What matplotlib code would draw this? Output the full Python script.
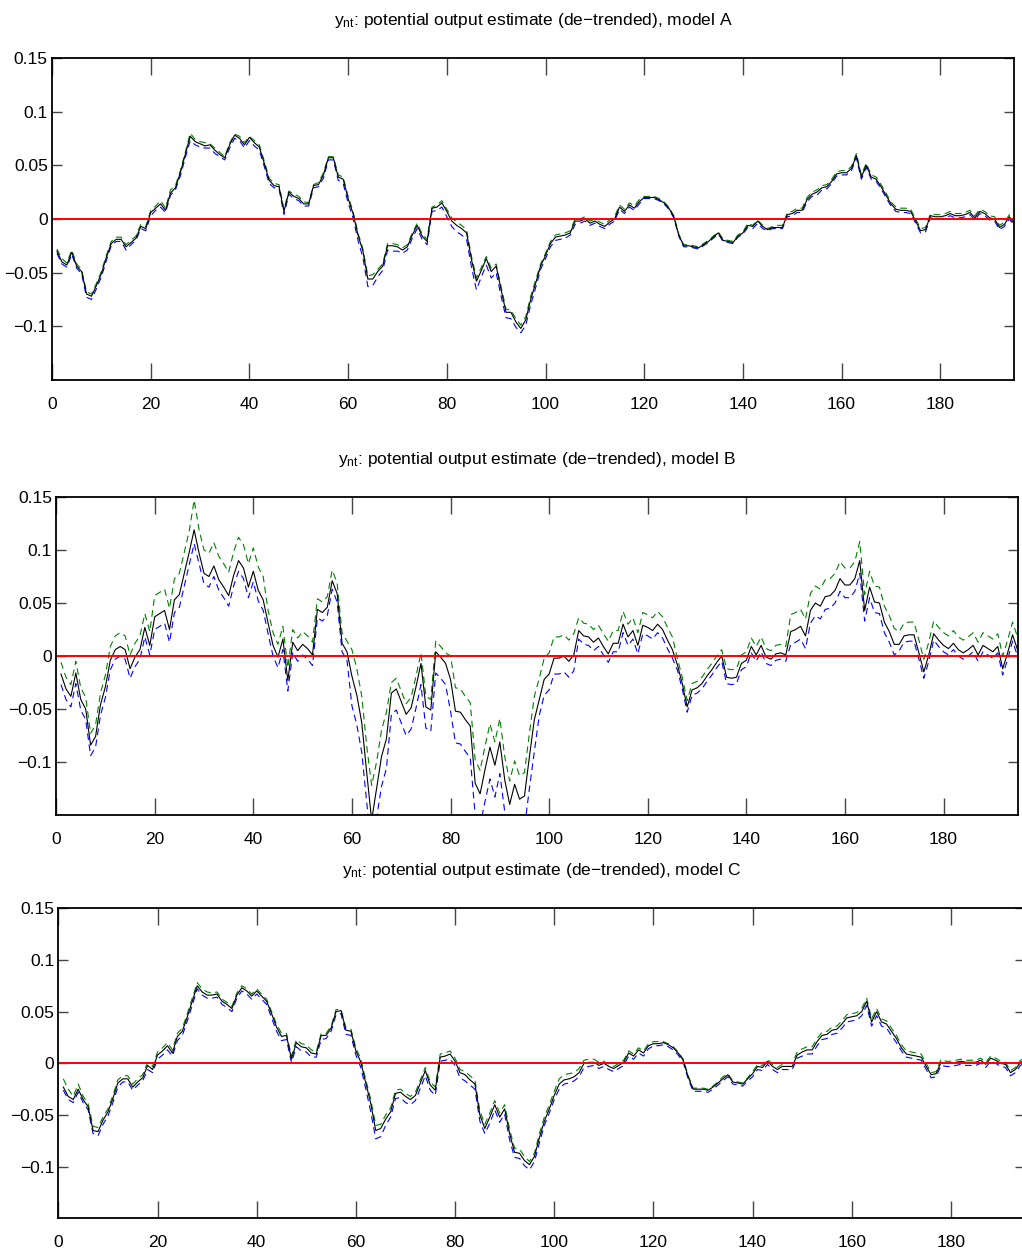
import numpy as np
import matplotlib
matplotlib.use('Agg')
import matplotlib.pyplot as plt

plt.rcParams['font.family'] = ['Liberation Sans', 'DejaVu Sans']
plt.rcParams['mathtext.fontset'] = 'custom'
plt.rcParams['mathtext.rm'] = 'Liberation Sans'
plt.rcParams['mathtext.it'] = 'Liberation Sans'

# --- data (t = 1..195) ---
black_a = [
    -0.030, -0.040, -0.043, -0.031, -0.044, -0.049, -0.070, -0.072, -0.062, -0.051,
    -0.036, -0.023, -0.019, -0.019, -0.026, -0.022, -0.018, -0.007, -0.009, 0.006,
    0.010, 0.014, 0.008, 0.024, 0.029, 0.043, 0.060, 0.077, 0.072, 0.070,
    0.068, 0.069, 0.064, 0.060, 0.057, 0.069, 0.078, 0.075, 0.069, 0.076,
    0.071, 0.067, 0.052, 0.036, 0.031, 0.030, 0.007, 0.025, 0.021, 0.019,
    0.014, 0.014, 0.031, 0.032, 0.041, 0.057, 0.057, 0.039, 0.037, 0.019,
    0.005, -0.015, -0.030, -0.056, -0.056, -0.049, -0.044, -0.025, -0.025, -0.026,
    -0.029, -0.026, -0.015, -0.006, -0.016, -0.021, 0.010, 0.011, 0.015, 0.007,
    -0.002, -0.006, -0.009, -0.013, -0.038, -0.058, -0.048, -0.037, -0.049, -0.044,
    -0.066, -0.087, -0.087, -0.096, -0.102, -0.094, -0.075, -0.060, -0.044, -0.034,
    -0.023, -0.017, -0.016, -0.015, -0.013, -0.002, -0.002, 0.000, -0.004, -0.002,
    -0.005, -0.007, -0.003, 0.000, 0.011, 0.007, 0.013, 0.010, 0.016, 0.020,
    0.020, 0.020, 0.018, 0.015, 0.010, 0.002, -0.015, -0.025, -0.025, -0.026,
    -0.027, -0.024, -0.021, -0.017, -0.013, -0.020, -0.021, -0.022, -0.016, -0.013,
    -0.006, -0.007, -0.002, -0.007, -0.010, -0.008, -0.008, -0.008, 0.004, 0.005,
    0.008, 0.008, 0.018, 0.023, 0.025, 0.029, 0.030, 0.035, 0.042, 0.043,
    0.043, 0.047, 0.059, 0.039, 0.050, 0.039, 0.037, 0.030, 0.022, 0.014,
    0.009, 0.008, 0.008, 0.007, -0.002, -0.011, -0.010, 0.003, 0.002, 0.002,
    0.003, 0.005, 0.003, 0.003, 0.004, 0.006, 0.001, 0.007, 0.005, 0.001,
    0.000, -0.008, -0.005, 0.002, -0.005,
]
green_a = [
    -0.028, -0.037, -0.041, -0.029, -0.042, -0.047, -0.068, -0.070, -0.060, -0.049,
    -0.034, -0.021, -0.017, -0.017, -0.024, -0.020, -0.016, -0.005, -0.007, 0.008,
    0.012, 0.017, 0.010, 0.027, 0.031, 0.045, 0.062, 0.080, 0.074, 0.072,
    0.071, 0.070, 0.066, 0.062, 0.058, 0.071, 0.079, 0.077, 0.071, 0.077,
    0.073, 0.069, 0.054, 0.038, 0.033, 0.032, 0.009, 0.026, 0.023, 0.021,
    0.016, 0.015, 0.032, 0.034, 0.043, 0.058, 0.058, 0.041, 0.039, 0.021,
    0.007, -0.013, -0.028, -0.053, -0.052, -0.047, -0.042, -0.023, -0.023, -0.024,
    -0.027, -0.024, -0.013, -0.004, -0.014, -0.019, 0.011, 0.013, 0.017, 0.009,
    0.001, -0.003, -0.006, -0.010, -0.035, -0.055, -0.045, -0.035, -0.046, -0.042,
    -0.063, -0.084, -0.085, -0.093, -0.099, -0.091, -0.072, -0.057, -0.042, -0.032,
    -0.021, -0.015, -0.014, -0.013, -0.011, 0.000, 0.000, 0.002, -0.002, 0.000,
    -0.003, -0.005, -0.001, 0.002, 0.013, 0.009, 0.015, 0.012, 0.018, 0.021,
    0.021, 0.021, 0.019, 0.016, 0.011, 0.003, -0.014, -0.024, -0.024, -0.025,
    -0.026, -0.023, -0.020, -0.016, -0.012, -0.019, -0.020, -0.021, -0.015, -0.012,
    -0.004, -0.006, -0.001, -0.006, -0.009, -0.007, -0.006, -0.006, 0.006, 0.007,
    0.010, 0.010, 0.020, 0.025, 0.027, 0.031, 0.032, 0.037, 0.044, 0.045,
    0.045, 0.049, 0.061, 0.041, 0.052, 0.041, 0.039, 0.032, 0.024, 0.016,
    0.011, 0.010, 0.010, 0.009, 0.000, -0.009, -0.008, 0.005, 0.004, 0.004,
    0.005, 0.007, 0.005, 0.005, 0.006, 0.008, 0.003, 0.009, 0.007, 0.003,
    0.002, -0.006, -0.003, 0.004, -0.003,
]
blue_a = [
    -0.032, -0.042, -0.045, -0.033, -0.046, -0.051, -0.073, -0.075, -0.065, -0.054,
    -0.039, -0.025, -0.021, -0.021, -0.029, -0.024, -0.020, -0.009, -0.011, 0.003,
    0.008, 0.011, 0.006, 0.022, 0.027, 0.040, 0.057, 0.073, 0.069, 0.067,
    0.066, 0.066, 0.061, 0.058, 0.055, 0.066, 0.075, 0.073, 0.066, 0.073,
    0.068, 0.064, 0.049, 0.033, 0.029, 0.028, 0.004, 0.023, 0.019, 0.017,
    0.012, 0.012, 0.029, 0.030, 0.038, 0.055, 0.055, 0.036, 0.033, 0.015,
    0.001, -0.020, -0.036, -0.063, -0.062, -0.054, -0.048, -0.029, -0.030, -0.030,
    -0.032, -0.029, -0.018, -0.009, -0.019, -0.024, 0.007, 0.008, 0.011, 0.002,
    -0.007, -0.012, -0.015, -0.019, -0.045, -0.066, -0.054, -0.043, -0.055, -0.050,
    -0.072, -0.092, -0.093, -0.101, -0.106, -0.099, -0.080, -0.064, -0.047, -0.037,
    -0.026, -0.020, -0.019, -0.018, -0.015, -0.005, -0.004, -0.002, -0.006, -0.004,
    -0.007, -0.009, -0.005, -0.002, 0.009, 0.005, 0.011, 0.008, 0.014, 0.019,
    0.019, 0.019, 0.017, 0.014, 0.009, 0.001, -0.016, -0.026, -0.026, -0.027,
    -0.028, -0.025, -0.022, -0.018, -0.014, -0.021, -0.022, -0.023, -0.017, -0.014,
    -0.008, -0.009, -0.004, -0.009, -0.011, -0.009, -0.009, -0.009, 0.002, 0.003,
    0.006, 0.006, 0.016, 0.021, 0.022, 0.027, 0.028, 0.033, 0.040, 0.041,
    0.041, 0.045, 0.057, 0.037, 0.048, 0.037, 0.035, 0.028, 0.020, 0.012,
    0.007, 0.006, 0.006, 0.005, -0.004, -0.013, -0.012, 0.001, 0.000, 0.000,
    0.001, 0.003, 0.001, 0.001, 0.002, 0.004, -0.001, 0.005, 0.003, -0.001,
    -0.002, -0.010, -0.007, 0.000, -0.007,
]

black_b = [
    -0.017, -0.031, -0.038, -0.016, -0.041, -0.050, -0.084, -0.076, -0.046, -0.029,
    -0.004, 0.006, 0.009, 0.006, -0.012, -0.001, 0.006, 0.027, 0.010, 0.037,
    0.040, 0.043, 0.025, 0.053, 0.058, 0.078, 0.098, 0.119, 0.097, 0.078,
    0.075, 0.085, 0.072, 0.065, 0.057, 0.076, 0.090, 0.083, 0.065, 0.080,
    0.062, 0.053, 0.031, 0.010, -0.001, 0.016, -0.023, 0.013, 0.005, 0.011,
    0.007, 0.001, 0.044, 0.041, 0.046, 0.071, 0.059, 0.012, 0.004, -0.019,
    -0.037, -0.063, -0.110, -0.155, -0.125, -0.095, -0.078, -0.035, -0.031, -0.043,
    -0.055, -0.049, -0.029, -0.007, -0.048, -0.051, 0.004, -0.001, -0.007, -0.022,
    -0.052, -0.053, -0.060, -0.066, -0.120, -0.130, -0.107, -0.086, -0.103, -0.081,
    -0.117, -0.140, -0.121, -0.135, -0.132, -0.095, -0.060, -0.041, -0.022, -0.017,
    -0.002, -0.002, 0.000, -0.005, 0.001, 0.024, 0.019, 0.018, 0.013, 0.017,
    0.009, 0.002, 0.012, 0.012, 0.030, 0.018, 0.024, 0.010, 0.029, 0.027,
    0.024, 0.030, 0.025, 0.015, 0.006, -0.008, -0.026, -0.048, -0.032, -0.030,
    -0.026, -0.019, -0.013, -0.006, 0.000, -0.020, -0.021, -0.020, -0.007, -0.004,
    0.009, 0.001, 0.010, -0.001, -0.003, 0.002, 0.003, 0.001, 0.023, 0.025,
    0.028, 0.019, 0.043, 0.050, 0.047, 0.056, 0.057, 0.062, 0.073, 0.067,
    0.067, 0.073, 0.090, 0.043, 0.065, 0.051, 0.050, 0.032, 0.023, 0.011,
    0.011, 0.019, 0.020, 0.020, 0.003, -0.015, 0.001, 0.021, 0.015, 0.010,
    0.007, 0.012, 0.006, 0.003, 0.006, 0.010, 0.001, 0.010, 0.007, 0.004,
    0.009, -0.012, 0.003, 0.020, 0.006,
]
green_b = [
    -0.006, -0.020, -0.027, -0.005, -0.030, -0.039, -0.073, -0.065, -0.035, -0.018,
    0.009, 0.019, 0.022, 0.019, 0.001, 0.012, 0.019, 0.040, 0.023, 0.057,
    0.060, 0.063, 0.045, 0.073, 0.078, 0.098, 0.118, 0.147, 0.119, 0.100,
    0.097, 0.107, 0.094, 0.087, 0.079, 0.098, 0.112, 0.105, 0.087, 0.102,
    0.084, 0.075, 0.043, 0.022, 0.011, 0.028, -0.011, 0.025, 0.017, 0.023,
    0.019, 0.013, 0.054, 0.051, 0.056, 0.081, 0.069, 0.022, 0.014, 0.006,
    -0.012, -0.038, -0.085, -0.122, -0.100, -0.070, -0.053, -0.025, -0.021, -0.033,
    -0.045, -0.039, -0.019, 0.003, -0.038, -0.041, 0.014, 0.009, 0.003, 0.000,
    -0.030, -0.031, -0.038, -0.044, -0.098, -0.108, -0.085, -0.064, -0.081, -0.059,
    -0.095, -0.118, -0.099, -0.113, -0.110, -0.073, -0.038, -0.021, -0.002, 0.003,
    0.018, 0.018, 0.020, 0.015, 0.021, 0.036, 0.031, 0.030, 0.025, 0.029,
    0.021, 0.014, 0.024, 0.024, 0.042, 0.030, 0.036, 0.022, 0.041, 0.039,
    0.036, 0.042, 0.037, 0.027, 0.018, -0.002, -0.020, -0.042, -0.026, -0.024,
    -0.020, -0.013, -0.007, 0.000, 0.006, -0.012, -0.013, -0.012, 0.001, 0.004,
    0.017, 0.009, 0.018, 0.007, 0.005, 0.010, 0.011, 0.009, 0.039, 0.041,
    0.044, 0.035, 0.059, 0.066, 0.063, 0.072, 0.073, 0.078, 0.089, 0.083,
    0.083, 0.089, 0.108, 0.058, 0.080, 0.066, 0.065, 0.047, 0.038, 0.026,
    0.023, 0.031, 0.032, 0.032, 0.015, -0.003, 0.013, 0.033, 0.027, 0.022,
    0.019, 0.024, 0.018, 0.015, 0.018, 0.022, 0.013, 0.022, 0.019, 0.016,
    0.021, 0.000, 0.015, 0.032, 0.018,
]
blue_b = [
    -0.027, -0.041, -0.048, -0.026, -0.051, -0.060, -0.094, -0.086, -0.056, -0.039,
    -0.013, -0.003, 0.000, -0.003, -0.021, -0.010, -0.003, 0.018, 0.001, 0.025,
    0.028, 0.031, 0.013, 0.041, 0.046, 0.066, 0.086, 0.106, 0.087, 0.068,
    0.065, 0.075, 0.062, 0.055, 0.047, 0.066, 0.080, 0.073, 0.055, 0.070,
    0.052, 0.043, 0.021, 0.000, -0.011, 0.006, -0.033, 0.003, -0.005, 0.001,
    -0.003, -0.009, 0.036, 0.033, 0.038, 0.063, 0.051, 0.004, -0.004, -0.047,
    -0.065, -0.091, -0.138, -0.183, -0.153, -0.123, -0.106, -0.055, -0.051, -0.063,
    -0.075, -0.069, -0.049, -0.027, -0.068, -0.071, -0.016, -0.021, -0.027, -0.052,
    -0.082, -0.083, -0.090, -0.096, -0.150, -0.160, -0.137, -0.116, -0.133, -0.111,
    -0.147, -0.170, -0.151, -0.165, -0.162, -0.125, -0.090, -0.056, -0.037, -0.032,
    -0.017, -0.017, -0.015, -0.020, -0.014, 0.016, 0.011, 0.010, 0.005, 0.009,
    0.001, -0.006, 0.004, 0.004, 0.022, 0.010, 0.016, 0.002, 0.021, 0.019,
    0.016, 0.022, 0.017, 0.007, -0.002, -0.013, -0.031, -0.053, -0.037, -0.035,
    -0.031, -0.024, -0.018, -0.011, -0.005, -0.026, -0.027, -0.026, -0.013, -0.010,
    0.003, -0.005, 0.004, -0.007, -0.009, -0.004, -0.003, -0.005, 0.011, 0.013,
    0.016, 0.007, 0.031, 0.038, 0.035, 0.044, 0.045, 0.050, 0.061, 0.055,
    0.055, 0.061, 0.078, 0.033, 0.055, 0.041, 0.040, 0.022, 0.013, 0.001,
    0.005, 0.013, 0.014, 0.014, -0.003, -0.021, -0.005, 0.015, 0.009, 0.004,
    0.001, 0.006, 0.000, -0.003, 0.000, 0.004, -0.005, 0.004, 0.001, -0.002,
    0.003, -0.018, -0.003, 0.014, 0.000,
]

black_c = [
    -0.023, -0.032, -0.035, -0.025, -0.035, -0.042, -0.065, -0.066, -0.055, -0.047,
    -0.034, -0.019, -0.015, -0.015, -0.023, -0.018, -0.014, -0.002, -0.006, 0.008,
    0.012, 0.017, 0.010, 0.026, 0.031, 0.045, 0.060, 0.075, 0.069, 0.066,
    0.066, 0.067, 0.060, 0.057, 0.053, 0.066, 0.073, 0.070, 0.065, 0.070,
    0.065, 0.060, 0.048, 0.035, 0.026, 0.027, 0.004, 0.020, 0.016, 0.015,
    0.010, 0.009, 0.027, 0.027, 0.034, 0.050, 0.051, 0.032, 0.031, 0.012,
    0.001, -0.019, -0.039, -0.065, -0.063, -0.054, -0.047, -0.029, -0.028, -0.032,
    -0.035, -0.031, -0.019, -0.007, -0.021, -0.026, 0.006, 0.007, 0.009, 0.002,
    -0.009, -0.011, -0.016, -0.020, -0.050, -0.063, -0.052, -0.040, -0.052, -0.044,
    -0.068, -0.086, -0.087, -0.094, -0.098, -0.090, -0.072, -0.056, -0.044, -0.031,
    -0.020, -0.016, -0.015, -0.013, -0.009, 0.000, 0.001, 0.001, -0.002, 0.000,
    -0.003, -0.005, -0.002, 0.001, 0.010, 0.007, 0.013, 0.010, 0.017, 0.019,
    0.019, 0.020, 0.018, 0.015, 0.010, 0.003, -0.013, -0.025, -0.025, -0.025,
    -0.026, -0.023, -0.019, -0.015, -0.011, -0.018, -0.019, -0.020, -0.015, -0.010,
    -0.003, -0.004, 0.002, -0.003, -0.006, -0.003, -0.003, -0.003, 0.008, 0.011,
    0.013, 0.013, 0.021, 0.027, 0.028, 0.032, 0.033, 0.038, 0.044, 0.045,
    0.046, 0.050, 0.060, 0.040, 0.050, 0.040, 0.038, 0.031, 0.024, 0.015,
    0.009, 0.008, 0.007, 0.006, -0.003, -0.011, -0.010, 0.001, 0.000, 0.000,
    0.001, 0.002, 0.001, 0.001, 0.001, 0.003, -0.001, 0.005, 0.003, 0.000,
    -0.001, -0.009, -0.006, 0.001, 0.003,
]
green_c = [
    -0.015, -0.025, -0.032, -0.020, -0.032, -0.039, -0.061, -0.062, -0.052, -0.044,
    -0.031, -0.016, -0.012, -0.012, -0.020, -0.015, -0.011, 0.001, -0.003, 0.011,
    0.015, 0.020, 0.013, 0.029, 0.034, 0.048, 0.063, 0.078, 0.072, 0.069,
    0.068, 0.069, 0.062, 0.059, 0.055, 0.068, 0.075, 0.072, 0.067, 0.072,
    0.067, 0.062, 0.050, 0.038, 0.029, 0.029, 0.007, 0.023, 0.019, 0.018,
    0.013, 0.011, 0.029, 0.029, 0.036, 0.052, 0.052, 0.034, 0.033, 0.015,
    0.004, -0.016, -0.035, -0.060, -0.059, -0.050, -0.043, -0.026, -0.025, -0.029,
    -0.032, -0.028, -0.016, -0.004, -0.018, -0.023, 0.009, 0.010, 0.012, 0.005,
    -0.006, -0.008, -0.012, -0.016, -0.046, -0.059, -0.048, -0.036, -0.048, -0.040,
    -0.064, -0.082, -0.083, -0.090, -0.095, -0.087, -0.068, -0.052, -0.040, -0.027,
    -0.015, -0.011, -0.010, -0.009, -0.005, 0.003, 0.004, 0.004, 0.001, 0.002,
    -0.001, -0.003, 0.000, 0.003, 0.012, 0.009, 0.015, 0.012, 0.019, 0.021,
    0.021, 0.021, 0.019, 0.016, 0.011, 0.004, -0.012, -0.024, -0.024, -0.024,
    -0.025, -0.022, -0.018, -0.013, -0.010, -0.017, -0.018, -0.019, -0.014, -0.008,
    -0.001, -0.002, 0.004, -0.001, -0.004, -0.001, 0.000, 0.000, 0.011, 0.014,
    0.016, 0.016, 0.024, 0.030, 0.031, 0.035, 0.036, 0.041, 0.047, 0.048,
    0.049, 0.053, 0.063, 0.043, 0.053, 0.043, 0.041, 0.034, 0.027, 0.018,
    0.012, 0.011, 0.010, 0.009, 0.000, -0.009, -0.008, 0.004, 0.002, 0.002,
    0.003, 0.004, 0.003, 0.003, 0.003, 0.005, 0.001, 0.007, 0.005, 0.002,
    0.001, -0.007, -0.004, 0.003, 0.005,
]
blue_c = [
    -0.026, -0.035, -0.038, -0.028, -0.038, -0.045, -0.068, -0.070, -0.059, -0.051,
    -0.038, -0.023, -0.018, -0.018, -0.026, -0.021, -0.017, -0.006, -0.009, 0.004,
    0.008, 0.013, 0.007, 0.022, 0.027, 0.041, 0.056, 0.072, 0.066, 0.063,
    0.063, 0.064, 0.057, 0.054, 0.050, 0.063, 0.070, 0.067, 0.062, 0.067,
    0.062, 0.057, 0.044, 0.031, 0.022, 0.023, 0.001, 0.016, 0.012, 0.011,
    0.006, 0.006, 0.023, 0.024, 0.031, 0.047, 0.048, 0.028, 0.027, 0.008,
    -0.004, -0.025, -0.047, -0.073, -0.071, -0.060, -0.052, -0.034, -0.033, -0.038,
    -0.040, -0.036, -0.024, -0.012, -0.026, -0.031, 0.002, 0.003, 0.004, -0.002,
    -0.014, -0.017, -0.021, -0.025, -0.056, -0.068, -0.058, -0.045, -0.057, -0.049,
    -0.074, -0.091, -0.092, -0.099, -0.103, -0.095, -0.077, -0.060, -0.048, -0.035,
    -0.025, -0.020, -0.019, -0.017, -0.013, -0.004, -0.003, -0.002, -0.005, -0.003,
    -0.006, -0.008, -0.005, -0.002, 0.007, 0.004, 0.010, 0.007, 0.014, 0.017,
    0.017, 0.018, 0.016, 0.013, 0.008, 0.001, -0.015, -0.027, -0.027, -0.027,
    -0.028, -0.025, -0.021, -0.017, -0.013, -0.020, -0.021, -0.022, -0.017, -0.013,
    -0.006, -0.007, -0.001, -0.006, -0.009, -0.006, -0.006, -0.006, 0.005, 0.007,
    0.009, 0.009, 0.017, 0.023, 0.024, 0.028, 0.029, 0.034, 0.040, 0.041,
    0.042, 0.046, 0.056, 0.036, 0.046, 0.036, 0.034, 0.027, 0.020, 0.012,
    0.006, 0.005, 0.004, 0.003, -0.006, -0.014, -0.013, -0.002, -0.003, -0.003,
    -0.002, -0.001, -0.002, -0.002, -0.002, 0.000, -0.004, 0.002, 0.000, -0.003,
    -0.004, -0.012, -0.009, -0.002, 0.000,
]

model_names = ['A', 'B', 'C']
x_ticks = [0, 20, 40, 60, 80, 100, 120, 140, 160, 180]
y_ticks = [-0.1, -0.05, 0, 0.05, 0.1, 0.15]
y_tick_labels = ['\u22120.1', '\u22120.05', '0', '0.05', '0.1', '0.15']

# axes rectangles in figure fractions (left, bottom, width, height)
RECTS = [
    (0.0509, 0.6975, 0.9416, 0.2564),
    (0.0549, 0.3511, 0.9407, 0.2532),
    (0.0571, 0.0299, 0.9462, 0.2470),
]

DASH = (0, (6, 4))
TITLE = '$\\mathrm{y_{nt}}$: potential output estimate (de\u2212trended), model '


def draw_panel(ax, name, mid, lo, hi):
    ax.plot(np.arange(1, len(lo) + 1), lo, color='blue', ls=DASH, lw=0.8)
    ax.plot(np.arange(1, len(hi) + 1), hi, color=(0, 0.5, 0), ls=DASH, lw=0.8)
    ax.plot(np.arange(1, len(mid) + 1), mid, color='black', lw=0.8)
    ax.axhline(0, color='red', lw=1.4)

    ax.set_xlim(0, 195)
    ax.set_ylim(-0.15, 0.15)
    ax.set_xticks(x_ticks)
    ax.set_yticks(y_ticks)
    ax.set_yticklabels(y_tick_labels)
    ax.tick_params(direction='in', top=True, right=True, labelsize=12.5,
                   color='#444444', width=1.0)
    ax.tick_params(axis='x', length=12, pad=12)
    ax.tick_params(axis='y', length=7, pad=3)
    for sp in ax.spines.values():
        sp.set_linewidth(1.3)
    ax.set_title(TITLE + name, fontsize=12.5, pad=24)


fig = plt.figure(figsize=(10.22, 12.56), dpi=100)
series = [(black_a, blue_a, green_a), (black_b, blue_b, green_b), (black_c, blue_c, green_c)]
for rect, name, (mid, lo, hi) in zip(RECTS, model_names, series):
    ax = fig.add_axes(rect)
    draw_panel(ax, name, mid, lo, hi)

fig.savefig('out.png', dpi=100)
plt.close(fig)
